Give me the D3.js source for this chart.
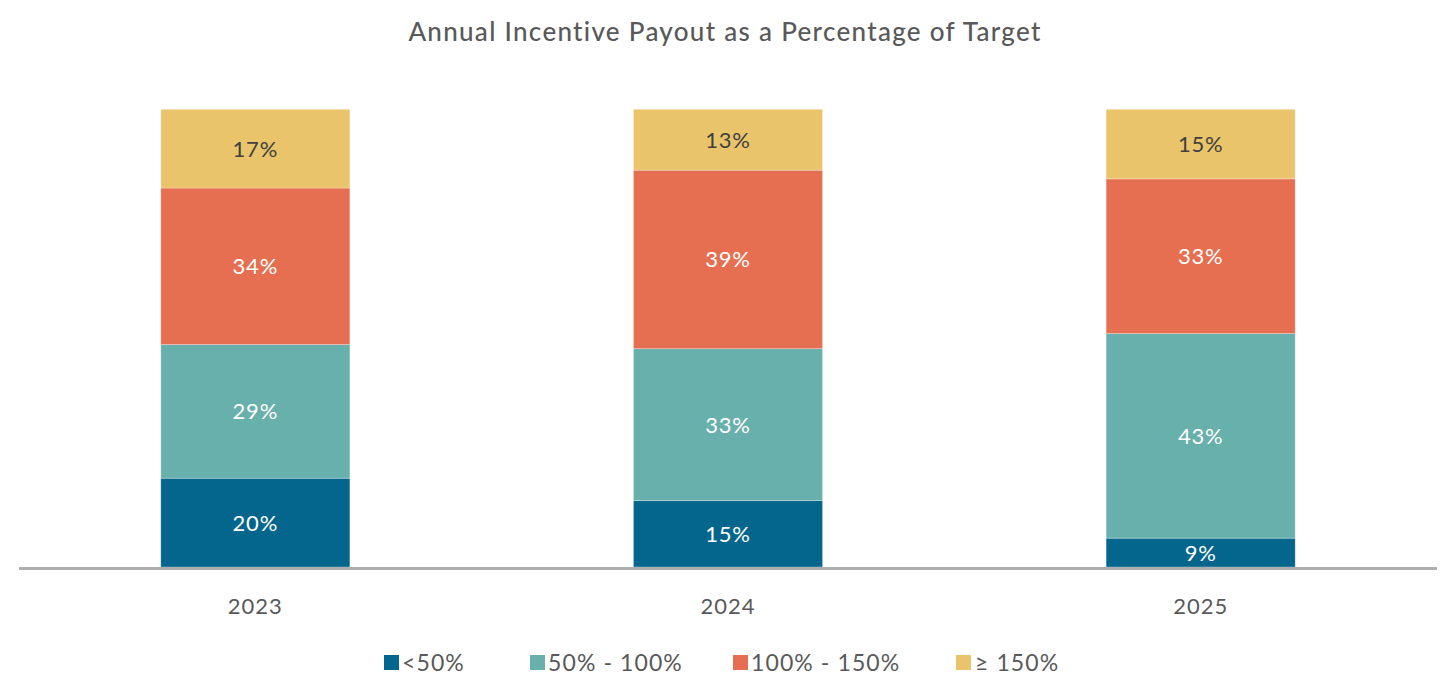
<!DOCTYPE html>
<html>
<head>
<meta charset="utf-8">
<script src="https://cdn.jsdelivr.net/npm/d3@7"></script>
<style>
  html, body { margin: 0; padding: 0; background: #fff; }
  svg { display: block; font-family: Lato, "Open Sans", sans-serif; }
</style>
</head>
<body>
<svg id="chart" width="1456" height="679"></svg>
<script>
const years = ["2023", "2024", "2025"];
const seriesNames = ["<50%", "50% - 100%", "100% - 150%", "\u2265 150%"];
const seriesColors = ["#05668d", "#68b0ab", "#e76f51", "#e9c46a"];
// Heights as drawn (share of each bar)
const below50 = [19.4, 14.5, 6.3];
const from50to100 = [29.2, 33.2, 44.7];
const from100to150 = [34.2, 39.0, 33.8];
const above150 = [17.2, 13.3, 15.2];
// Labels printed on the segments
const labelsBelow50 = ["20%", "15%", "9%"];
const labelsFrom50to100 = ["29%", "33%", "43%"];
const labelsFrom100to150 = ["34%", "39%", "33%"];
const labelsAbove150 = ["17%", "13%", "15%"];

const seriesValues = [below50, from50to100, from100to150, above150];
const seriesLabels = [labelsBelow50, labelsFrom50to100, labelsFrom100to150, labelsAbove150];

const svg = d3.select("#chart");
const left = 19, right = 1437, baseY = 567, topY = 109.3;

const x = d3.scaleBand().domain(years).range([left, right]).paddingInner(0.6).paddingOuter(0.3);
const y = d3.scaleLinear().domain([0, 100]).range([baseY, topY]);

const rows = years.map((yr, i) => {
  const r = { year: yr };
  seriesNames.forEach((s, j) => { r[s] = seriesValues[j][i]; });
  return r;
});
const stacked = d3.stack().keys(seriesNames)(rows);

// Title
svg.append("text")
  .attr("x", 725).attr("y", 41)
  .attr("text-anchor", "middle")
  .attr("font-size", 26).attr("font-weight", 500)
  .attr("letter-spacing", 1.3)
  .attr("fill", "#595959")
  .text("Annual Incentive Payout as a Percentage of Target");

const layers = svg.append("g").selectAll("g")
  .data(stacked).join("g")
  .attr("fill", (d, j) => seriesColors[j]);

layers.selectAll("rect")
  .data(d => d.map((v, i) => ({ v, i })))
  .join("rect")
  .attr("x", d => x(years[d.i]))
  .attr("width", x.bandwidth())
  .attr("y", d => y(d.v[1]))
  .attr("height", d => y(d.v[0]) - y(d.v[1]))
  .attr("stroke", "rgba(255,255,255,0.35)")
  .attr("stroke-width", 0.8);

// Segment labels
stacked.forEach((layer, j) => {
  svg.append("g").selectAll("text")
    .data(layer.map((v, i) => ({ v, i })))
    .join("text")
    .attr("x", d => x(years[d.i]) + x.bandwidth() / 2)
    .attr("y", d => (y(d.v[0]) + y(d.v[1])) / 2)
    .attr("dy", "0.36em")
    .attr("text-anchor", "middle")
    .attr("font-size", 22)
    .attr("letter-spacing", 0.8)
    .attr("fill", j === 3 ? "#404040" : "#ffffff")
    .text(d => seriesLabels[j][d.i]);
});

// Baseline
svg.append("line")
  .attr("x1", left).attr("x2", right)
  .attr("y1", baseY + 1.5).attr("y2", baseY + 1.5)
  .attr("stroke", "#aeaeb0").attr("stroke-width", 3);

// X axis labels
const xAxis = d3.axisBottom(x).tickSize(0).tickPadding(0);
const gx = svg.append("g").attr("transform", `translate(0,${baseY + 3})`).call(xAxis);
gx.select(".domain").remove();
gx.selectAll("text")
  .attr("y", 36)
  .attr("dy", "0.36em")
  .attr("font-size", 22)
  .attr("letter-spacing", 1)
  .attr("font-family", "Lato, sans-serif")
  .attr("fill", "#595959");

// Legend
const legendX = [384, 530, 733, 956];
const lg = svg.append("g").selectAll("g")
  .data(seriesNames).join("g")
  .attr("transform", (d, j) => `translate(${legendX[j]},655)`);
lg.append("rect").attr("width", 15).attr("height", 15).attr("fill", (d, j) => seriesColors[j]);
lg.append("text")
  .attr("x", (d, j) => j === 3 ? 19 : 18)
  .attr("y", 8).attr("dy", "0.36em")
  .attr("font-size", 23)
  .attr("letter-spacing", 1.1)
  .attr("fill", "#595959")
  .text(d => d);
</script>
</body>
</html>
